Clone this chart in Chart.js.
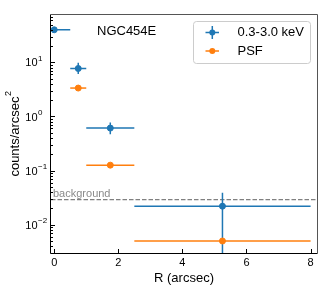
<!DOCTYPE html>
<html>
<head>
<meta charset="utf-8">
<script src="https://cdn.jsdelivr.net/npm/chart.js@4"></script>
<style>html,body{margin:0;padding:0;background:#fff}</style>
</head>
<body>
<canvas id="profileChart" width="324" height="291"></canvas>
<script>
const FONT = '"Liberation Sans", Arial, sans-serif';

// surface brightness profile, R in arcsec
const bandRadius = [0, 0.75, 1.75, 5.25];
const bandRadiusErr = [0.5, 0.25, 0.75, 2.75];
const bandCounts = [40, 7.7, 0.61, 0.022];
const bandLow = [36, 6.1, 0.47, 0.001];
const bandHigh = [44, 9.8, 0.77, 0.039];
const psfRadius = [0.75, 1.75, 5.25];
const psfRadiusErr = [0.25, 0.75, 2.75];
const psfCounts = [3.35, 0.126, 0.005];
const backgroundLevel = 0.029;
const xTicks = [0, 2, 4, 6, 8];
const yDecades = [-2, -1, 0, 1];
const seriesNames = ['0.3-3.0 keV', 'PSF'];
const blue = '#1f77b4', orange = '#ff7f0e';

const errorBars = {
  id: 'errorBars',
  beforeDatasetsDraw(chart) {
    const {ctx, chartArea: a, scales: {y}} = chart;
    ctx.save();
    ctx.strokeStyle = '#808080';
    ctx.lineWidth = 1.2;
    ctx.setLineDash([4.5, 2]);
    const by = y.getPixelForValue(backgroundLevel);
    ctx.beginPath(); ctx.moveTo(a.left, by); ctx.lineTo(a.right, by); ctx.stroke();
    ctx.setLineDash([]);
    ctx.fillStyle = '#8a8a8a';
    ctx.font = '11px ' + FONT;
    ctx.textBaseline = 'alphabetic';
    ctx.fillText('background', a.left + 2, by - 2.5);
    ctx.restore();
  },
  beforeDatasetDraw(chart, args) {
    const {ctx, chartArea: a, scales: {x, y}} = chart;
    const ds = chart.data.datasets[args.index];
    ctx.save();
    ctx.beginPath(); ctx.rect(a.left, a.top, a.width, a.height); ctx.clip();
    ctx.strokeStyle = ds.borderColor;
    ctx.lineWidth = 1.5;
    ds.data.forEach(p => {
      const px = x.getPixelForValue(p.x), py = y.getPixelForValue(p.y);
      ctx.beginPath();
      ctx.moveTo(x.getPixelForValue(p.x - p.xe), py);
      ctx.lineTo(x.getPixelForValue(p.x + p.xe), py);
      if (p.lo) {
        ctx.moveTo(px, y.getPixelForValue(p.lo));
        ctx.lineTo(px, y.getPixelForValue(p.hi));
      }
      ctx.stroke();
    });
    ctx.restore();
  }
};

const frame = {
  id: 'frame',
  afterDraw(chart) {
    const {ctx, chartArea: a, scales: {x, y}} = chart;
    ctx.save();
    // spines
    ctx.lineWidth = 1;
    ctx.strokeStyle = '#000';
    ctx.beginPath();
    ctx.moveTo(a.left - 0.5, a.top - 0.5); ctx.lineTo(a.left - 0.5, a.bottom + 0.5);
    ctx.lineTo(a.right + 0.5, a.bottom + 0.5);
    ctx.stroke();
    ctx.strokeStyle = '#555';
    ctx.beginPath();
    ctx.moveTo(a.left - 0.5, a.top - 0.5); ctx.lineTo(a.right + 0.5, a.top - 0.5);
    ctx.lineTo(a.right + 0.5, a.bottom + 0.5);
    ctx.stroke();

    // inward ticks
    ctx.strokeStyle = '#000';
    ctx.beginPath();
    xTicks.forEach(v => {
      const px = Math.round(x.getPixelForValue(v)) + 0.5;
      ctx.moveTo(px, a.bottom); ctx.lineTo(px, a.bottom - 4);
    });
    for (let d = -3; d <= 1; d++) {
      for (let k = 1; k <= 9; k++) {
        const v = k * Math.pow(10, d);
        if (v < y.min || v > y.max) continue;
        const py = Math.round(y.getPixelForValue(v)) + 0.5;
        ctx.moveTo(a.left, py); ctx.lineTo(a.left + (k === 1 ? 4 : 2), py);
      }
    }
    ctx.stroke();

    // y tick labels 10^n
    ctx.fillStyle = '#000';
    ctx.textBaseline = 'middle';
    yDecades.forEach(d => {
      const py = y.getPixelForValue(Math.pow(10, d));
      ctx.font = '11px ' + FONT;
      ctx.textAlign = 'right';
      ctx.fillText('10', 37.5, py + 1);
      ctx.font = '8px ' + FONT;
      ctx.textAlign = 'left';
      ctx.fillText(d < 0 ? '\u2212' + (-d) : String(d), 38, py - 4);
    });

    // axis titles
    ctx.font = '13px ' + FONT;
    ctx.textAlign = 'center';
    ctx.fillText('R (arcsec)', (a.left + a.right) / 2, 278);
    ctx.translate(15, (a.top + a.bottom) / 2);
    ctx.rotate(-Math.PI / 2);
    const main = 'counts/arcsec';
    const w = ctx.measureText(main).width;
    ctx.font = '9px ' + FONT;
    const w2 = ctx.measureText('2').width;
    ctx.textAlign = 'left';
    ctx.font = '13px ' + FONT;
    ctx.fillText(main, -(w + w2) / 2, 0);
    ctx.font = '9px ' + FONT;
    ctx.fillText('2', -(w + w2) / 2 + w + 0.5, -6);
    ctx.restore();

    // object name
    ctx.save();
    ctx.font = '13px ' + FONT;
    ctx.fillStyle = '#000';
    ctx.textBaseline = 'middle';
    ctx.fillText('NGC454E', 97, 31);

    // legend
    ctx.fillStyle = 'rgba(255,255,255,0.8)';
    ctx.strokeStyle = '#cccccc';
    ctx.lineWidth = 1;
    ctx.beginPath();
    ctx.roundRect(193.5, 21.5, 117, 42, 3);
    ctx.fill(); ctx.stroke();
    const rows = [32.5, 51];
    [blue, orange].forEach((c, i) => {
      const ry = rows[i];
      ctx.strokeStyle = c;
      ctx.lineWidth = 1.5;
      ctx.beginPath();
      ctx.moveTo(205.5, ry); ctx.lineTo(219, ry);
      if (i === 0) { ctx.moveTo(212.3, ry - 6.5); ctx.lineTo(212.3, ry + 6.5); }
      ctx.stroke();
      ctx.fillStyle = c;
      ctx.beginPath(); ctx.arc(212.3, ry, 3, 0, Math.PI * 2); ctx.fill();
      ctx.fillStyle = '#000';
      ctx.font = '13px ' + FONT;
      ctx.fillText(seriesNames[i], 237.5, ry);
    });
    ctx.restore();
  }
};

new Chart(document.getElementById('profileChart'), {
  type: 'scatter',
  data: {
    datasets: [
      {
        label: seriesNames[0],
        data: bandRadius.map((r, i) => ({x: r, y: bandCounts[i], xe: bandRadiusErr[i], lo: bandLow[i], hi: bandHigh[i]})),
        borderColor: blue,
        backgroundColor: blue,
        pointRadius: 3,
        pointBorderWidth: 1,
        pointBorderColor: blue,
        order: 1
      },
      {
        label: seriesNames[1],
        data: psfRadius.map((r, i) => ({x: r, y: psfCounts[i], xe: psfRadiusErr[i]})),
        borderColor: orange,
        backgroundColor: orange,
        pointRadius: 3,
        pointBorderWidth: 1,
        pointBorderColor: orange,
        order: 0
      }
    ]
  },
  options: {
    responsive: false,
    animation: false,
    devicePixelRatio: 1,
    layout: {padding: {top: 15, right: 7, left: 0, bottom: 0}},
    plugins: {legend: {display: false}, tooltip: {enabled: false}},
    scales: {
      x: {
        type: 'linear', min: -0.1, max: 8.2,
        grid: {display: false, drawTicks: false},
        border: {display: false},
        ticks: {stepSize: 2, includeBounds: false, padding: 3, maxRotation: 0, color: '#000', font: {family: FONT, size: 11}},
        afterFit(s) { s.height = 38; }
      },
      y: {
        type: 'logarithmic', min: 0.003, max: 75,
        grid: {display: false, drawTicks: false},
        border: {display: false},
        ticks: {display: false},
        afterFit(s) { s.width = 51; }
      }
    }
  },
  plugins: [errorBars, frame]
});
</script>
</body>
</html>
